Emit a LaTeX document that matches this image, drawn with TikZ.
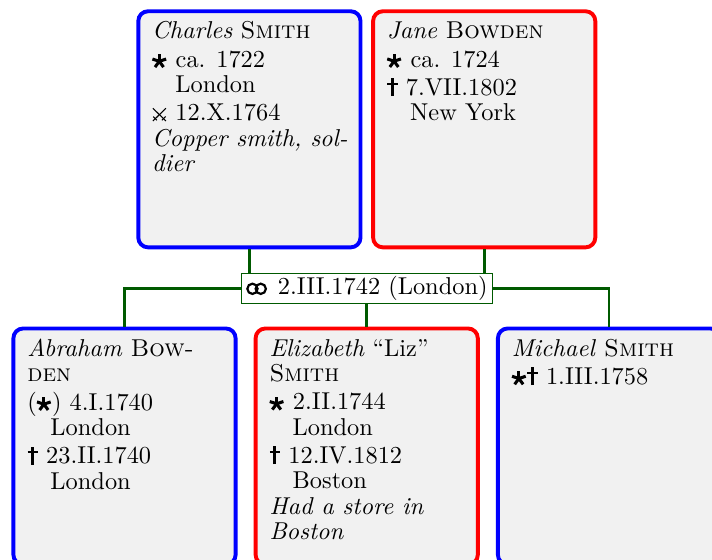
\documentclass[tikz,border=0pt]{standalone}
\definecolor{edgegreen}{RGB}{0,90,0}
\definecolor{boxfill}{gray}{0.945}
\definecolor{pblue}{RGB}{0,0,255}
\definecolor{pred}{RGB}{255,0,0}
\newsavebox\symStar
\newsavebox\symDagger
\newsavebox\symSwords
\newsavebox\symRings
\newcommand\makeGenSymbols{%
\global\sbox\symStar{\tikz[baseline=0pt,line width=1.25pt]{%
  \path[use as bounding box] (0pt,0pt) rectangle (6.3pt,5pt);
  \foreach \a in {90,18,-54,-126,162}{\draw (2.9pt,2.45pt) -- ++(\a:2.95pt);}}}%
\global\sbox\symDagger{\tikz[baseline=0pt]{%
  \path[use as bounding box] (0pt,0pt) rectangle (4.4pt,7pt);
  \draw[line width=1.15pt] (2.2pt,-0.3pt) -- (2.2pt,7pt);
  \draw[line width=1.0pt] (0.1pt,4.8pt) -- (4.3pt,4.8pt);}}%
\global\sbox\symSwords{\tikz[baseline=0pt,line width=0.45pt]{%
  \path[use as bounding box] (0pt,0pt) rectangle (6.2pt,5pt);
  \draw (0.3pt,0pt) -- (5.6pt,5.2pt);
  \draw (5.6pt,0pt) -- (0.3pt,5.2pt);
  \draw (0.4pt,1.8pt) -- (1.9pt,0.3pt);
  \draw (4.0pt,0.3pt) -- (5.5pt,1.8pt);}}%
\global\sbox\symRings{\tikz[baseline=0pt,line width=0.9pt]{%
  \path[use as bounding box] (0pt,0pt) rectangle (9.6pt,5pt);
  \draw (2.5pt,2.3pt) circle[radius=2.1pt];
  \draw (5.9pt,2.3pt) circle[radius=2.1pt];}}%
}
\newcommand\gBorn{\usebox\symStar}
\newcommand\gDied{\usebox\symDagger}
\newcommand\gBattle{\usebox\symSwords}
\newcommand\gRings{\usebox\symRings}
\newcommand\gPlace{\hspace*{9.5pt}}
\newcommand\gFirst{\rule{0pt}{7pt}}
\begin{document}
\begin{tikzpicture}[x=0.41pt,y=-0.41pt,
  pbox/.style={draw, line width=1.6pt, rounded corners=4pt, fill=boxfill,
    minimum width=91.1pt, minimum height=96.8pt, inner sep=0pt},
  male/.style={pbox, draw=pblue},
  female/.style={pbox, draw=pred},
  ptext/.style={anchor=north west, inner sep=0pt, align=left,
    font=\fontsize{10pt}{10.41pt}\selectfont},
  edge/.style={draw=edgegreen, line width=1.1pt},
  famlabel/.style={draw=edgegreen, line width=0.5pt, fill=white,
    minimum width=102.8pt, minimum height=12.4pt, inner sep=0pt,
    font=\fontsize{10pt}{10.41pt}\selectfont}]
\begin{pgfinterruptboundingbox}
\makeGenSymbols
\end{pgfinterruptboundingbox}
\useasboundingbox (0,0) rectangle (712,559);
\clip (0,0) rectangle (712,559);
% boxes
\node[male] (charles) at (249.4,129.3) {};
\node[female] (jane) at (484.2,129.3) {};
\node[male] (abraham) at (124.5,446.5) {};
\node[female] (elizabeth) at (366.7,446.5) {};
\node[male] (michael) at (609,446.5) {};
% family junction
\coordinate (famc) at (367,288.3);
\draw[edge] (charles.south) -- (charles.south |- famc);
\draw[edge] (jane.south) -- (jane.south |- famc);
\draw[edge] (abraham.north) |- (famc) -| (michael.north);
\draw[edge] (elizabeth.north |- famc) -- (elizabeth.north);
\node[famlabel] (fam) at (famc) {\gRings\ 2.III.1742 (London)};
% texts
\node[ptext] (charlestext) at ([xshift=6.3pt,yshift=-4.9pt]charles.north west)
 {\gFirst\textit{Charles} \textsc{Smith}\\[1.2pt]
  \gBorn\ ca. 1722\\
  \gPlace London\\[1.2pt]
  \gBattle\ 12.X.1764\\
  \textit{Copper smith, sol-}\\
  \textit{dier}};
\node[ptext] (janetext) at ([xshift=6.3pt,yshift=-4.9pt]jane.north west)
 {\gFirst\textit{Jane} \textsc{Bowden}\\[1.2pt]
  \gBorn\ ca. 1724\\[1.2pt]
  \gDied\ 7.VII.1802\\
  \gPlace New York};
\node[ptext] (abrahamtext) at ([xshift=6.3pt,yshift=-4.9pt]abraham.north west)
 {\gFirst\textit{Abraham} \textsc{Bow-}\\
  \textsc{den}\\[1.2pt]
  (\gBorn) 4.I.1740\\
  \gPlace London\\[1.2pt]
  \gDied\ 23.II.1740\\
  \gPlace London};
\node[ptext] (elizabethtext) at ([xshift=6.3pt,yshift=-4.9pt]elizabeth.north west)
 {\gFirst\textit{Elizabeth} ``Liz''\\
  \textsc{Smith}\\[1.2pt]
  \gBorn\ 2.II.1744\\
  \gPlace London\\[1.2pt]
  \gDied\ 12.IV.1812\\
  \gPlace Boston\\
  \textit{Had a store in}\\
  \textit{Boston}};
\node[ptext] (michaeltext) at ([xshift=6.3pt,yshift=-4.9pt]michael.north west)
 {\gFirst\textit{Michael} \textsc{Smith}\\[1.2pt]
  \gBorn\gDied\ 1.III.1758};
\end{tikzpicture}
\end{document}
